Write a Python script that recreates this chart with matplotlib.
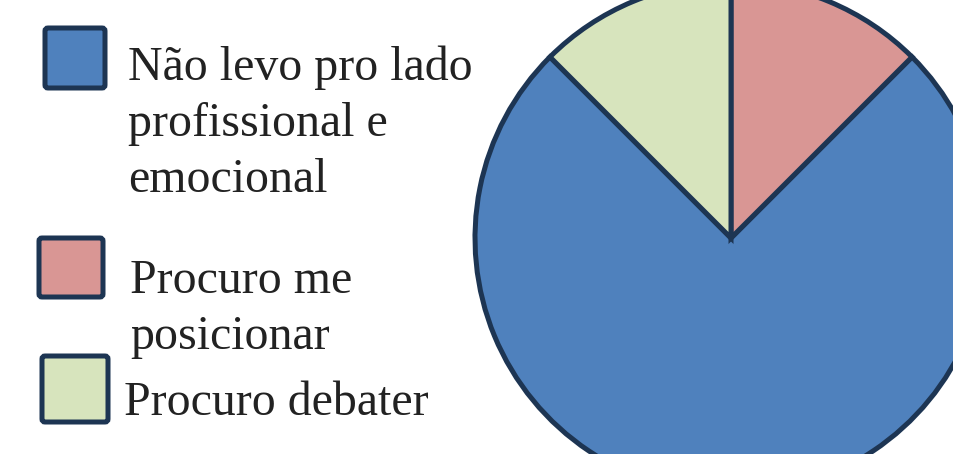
import matplotlib.pyplot as plt
from matplotlib.patches import FancyBboxPatch

# answers and shares
labels = [['Não levo pro lado', 'profissional e', 'emocional'],
          ['Procuro me', 'posicionar'],
          ['Procuro debater']]
sizes = [75, 12.5, 12.5]
colors = ['#4f81bd', '#d99694', '#d7e4bd']
edge = '#1d3553'

W, H = 954, 454
fig = plt.figure(figsize=(W / 100, H / 100), dpi=100)
ax = fig.add_axes([0, 0, 1, 1])

ax.pie(sizes, colors=colors, startangle=135, counterclock=True,
       center=(731, H - 238), radius=256, frame=True,
       wedgeprops=dict(edgecolor=edge, linewidth=3.6, joinstyle='miter'))
ax.set_xlim(0, W)
ax.set_ylim(0, H)
ax.set_aspect('equal')
ax.axis('off')

# legend drawn by hand, boxes (x, y, w, h) and text placed as in the picture (pixels from top)
boxes = [(45, 28, 60, 60), (39, 238, 64, 59), (42, 356, 66, 66)]
texts = [(128, 80), (130, 293), (124, 415)]
for lines, col, (bx, by, bw, bh), (tx, ty) in zip(labels, colors, boxes, texts):
    ax.add_patch(FancyBboxPatch((bx, H - by - bh), bw, bh,
                                boxstyle='round,pad=0,rounding_size=3',
                                facecolor=col, edgecolor=edge, linewidth=3.6))
    for i, line in enumerate(lines):
        ax.text(tx, H - (ty + 56 * i), line, family='Liberation Serif', fontsize=34.5,
                color='#222222', va='baseline', ha='left')

fig.savefig('out.png', dpi=100)
